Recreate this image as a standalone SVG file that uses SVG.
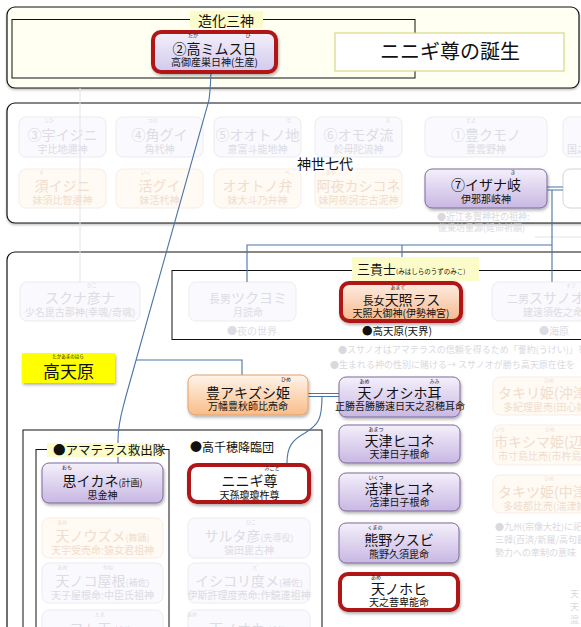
<svg xmlns="http://www.w3.org/2000/svg" width="581" height="627" viewBox="0 0 581 627">
<defs>
<linearGradient id="gLav" x1="0" y1="0" x2="0" y2="1"><stop offset="0" stop-color="#f4f0fb"/><stop offset="1" stop-color="#c8b7e3"/></linearGradient>
<linearGradient id="gLav2" x1="0" y1="0" x2="0" y2="1"><stop offset="0" stop-color="#f3f0fb"/><stop offset="1" stop-color="#d2c8ee"/></linearGradient>
<linearGradient id="gPeach" x1="0" y1="0" x2="0" y2="1"><stop offset="0" stop-color="#feede2"/><stop offset="1" stop-color="#f6b88c"/></linearGradient>
<linearGradient id="gOr" x1="0" y1="0" x2="0" y2="1"><stop offset="0" stop-color="#fff4ea"/><stop offset="1" stop-color="#f8bd88"/></linearGradient>
<filter id="sh" x="-10%" y="-10%" width="125%" height="140%"><feDropShadow dx="1" dy="2" stdDeviation="1.5" flood-color="#000" flood-opacity="0.3"/></filter>
<filter id="psh" x="-5%" y="-5%" width="110%" height="115%"><feDropShadow dx="0" dy="1.5" stdDeviation="1" flood-color="#000" flood-opacity="0.25"/></filter>
</defs>
<style>
text{font-family:"Noto Sans CJK JP","Noto Sans CJK SC",sans-serif;fill:#111}
.m{font-size:14px;text-anchor:middle}
.s{font-size:10px;text-anchor:middle}
.r{font-size:5px;text-anchor:middle;transform:translateY(-1.5px)}
.st{text-anchor:start}
.fl rect{fill:#faf9fd;stroke:#ebebf1}
.fl text{fill:#dcdce4}
.fo rect{fill:#fffaf4;stroke:#f7ede4}
.fo text{fill:#f0ddcc}
.lav{fill:url(#gLav);stroke:#7d6b9b;stroke-width:1}
.red{stroke:#b01419;stroke-width:4}
.cn{fill:none;stroke:#4a74a6;stroke-width:1.1}
.faint{fill:none;stroke:#e4e4e9;stroke-width:1}
.pan{stroke:#111;stroke-width:1.2}
.box{fill:none;stroke:#111;stroke-width:1}
.note{fill:#d9d9de;font-size:9px}
.lbl{fill:#fcfccb}
</style>

<!-- panels -->
<g id="panel-zouka">
<rect x="7" y="7" width="572" height="81" rx="8" fill="#fffff2" class="pan" filter="url(#psh)"/>
<rect x="12" y="19.5" width="403" height="58.5" fill="#fcfccb" class="box"/>
</g>
<g id="panel-kamiyo">
<rect x="7" y="103" width="600" height="120" rx="8" fill="#fff" class="pan" filter="url(#psh)"/>
</g>
<g id="panel-takamagahara">
<rect x="7" y="252" width="600" height="420" rx="8" fill="#fff" class="pan"/>
<rect x="172" y="270.5" width="430" height="69" class="box"/>
<rect x="23" y="430" width="299" height="220" class="box"/>
<rect x="36" y="449.5" width="133" height="200" class="box"/>
</g>

<!-- faded nodes: 神世七代 row 1 -->
<g id="n-uijini" class="fl"><rect x="19" y="117" width="87" height="40" rx="7"/><text class="r" x="48.5" y="123">うひ</text><text class="m" x="62.5" y="140">③宇イジニ</text><text class="s" x="62.5" y="153">宇比地邇神</text></g>
<g id="n-tsunogui" class="fl"><rect x="116" y="117" width="87" height="40" rx="7"/><text class="r" x="152.5" y="123">つの</text><text class="m" x="159.5" y="140">④角グイ</text><text class="s" x="159.5" y="153">角杙神</text></g>
<g id="n-ootonoji" class="fl"><rect x="214" y="117" width="87" height="40" rx="7"/><text class="r" x="289" y="123">ぢ</text><text class="m" x="257.5" y="140">⑤オオトノ地</text><text class="s" x="257.5" y="153">意富斗能地神</text></g>
<g id="n-omodaru" class="fl"><rect x="315" y="117" width="87" height="40" rx="7"/><text class="r" x="388" y="123">る</text><text class="m" x="358.5" y="140">⑥オモダ流</text><text class="s" x="358.5" y="153">於母陀流神</text></g>
<g id="n-toyokumono" class="fl"><rect x="425" y="117" width="122" height="40" rx="7"/><text class="r" x="471" y="123">とよ</text><text class="m" x="486" y="140">①豊クモノ</text><text class="s" x="486" y="153">豊雲野神</text></g>
<g id="n-kuninotokotachi" class="fl"><rect x="563" y="117" width="60" height="40" rx="7"/><text class="s st" x="567" y="153">国之常立神</text></g>
<!-- row 2 -->
<g id="n-suhijini" class="fo"><rect x="19" y="169" width="87" height="39" rx="7"/><text class="r" x="41.5" y="175">す</text><text class="m" x="62.5" y="191">須イジニ</text><text class="s" x="62.5" y="204">妹須比智邇神</text></g>
<g id="n-ikugui" class="fo"><rect x="116" y="169" width="87" height="39" rx="7"/><text class="r" x="146" y="175">いく</text><text class="m" x="159.5" y="191">活グイ</text><text class="s" x="159.5" y="204">妹活杙神</text></g>
<g id="n-ootonobe" class="fo"><rect x="214" y="169" width="87" height="39" rx="7"/><text class="r" x="287" y="175">べ</text><text class="m" x="257.5" y="191">オオトノ弁</text><text class="s" x="257.5" y="204">妹大斗乃弁神</text></g>
<g id="n-ayakashikone" class="fo"><rect x="315" y="169" width="87" height="39" rx="7"/><text class="r" x="331" y="175">あや</text><text class="m" x="358.5" y="191">阿夜カシコネ</text><text class="s" x="358.5" y="204">妹阿夜訶志古泥神</text></g>
<g id="n-izanami"><rect x="563" y="169" width="60" height="39" rx="7" fill="#fff" stroke="#d4d4d8"/></g>
<text class="note" x="437" y="220" font-size="10">●近江多賀神社の祖神:</text>
<text class="note" x="438" y="231" font-size="10">俊乗坊重源(延命祈願)</text>

<!-- faded nodes: 高天原 -->
<g id="n-sukunabikona" class="fl"><rect x="20" y="282" width="120" height="39" rx="7"/><text class="r" x="92" y="288">ひこ</text><text class="m" x="80" y="303">スクナ彦ナ</text><text class="s" x="80" y="316">少名毘古那神(幸魂/奇魂)</text></g>
<g id="n-tsukuyomi" class="fl"><rect x="189" y="282" width="107" height="39" rx="7"/><text class="m" x="248" y="303"><tspan font-size="11">長男</tspan>ツクヨミ</text><text class="s" x="248" y="316">月読命</text><text class="s" x="252" y="335" font-size="10.5">●夜の世界</text></g>
<g id="n-susanoo" class="fl"><rect x="492" y="282" width="120" height="39" rx="7"/><text class="r" x="571" y="288">すさ</text><text class="m st" x="507" y="303"><tspan font-size="11">二男</tspan>スサノオ</text><text class="s st" x="523" y="316">建速須佐之命</text><text class="s st" x="539" y="335" font-size="10.5">●海原</text></g>
<text class="note" x="338" y="353">●スサノオはアマテラスの信頼を得るため「誓約(うけい)」を</text>
<text class="note" x="330" y="368">●生まれる神の性別に賭ける→ スサノオが勝ち高天原在住を</text>

<g id="n-takiri" class="fo"><rect x="493" y="377" width="120" height="38" rx="7"/><text class="r st" x="544" y="383">ひめ</text><text class="m st" x="498" y="398">タキリ姫(沖津宮)</text><text class="s st" x="503" y="411">多紀理毘売(田心姫)</text></g>
<g id="n-ichikishima" class="fo"><rect x="493" y="425" width="120" height="40" rx="7"/><text class="r st" x="495" y="432">いち</text><text class="r st" x="545" y="432">ひめ</text><text class="m st" x="494" y="447">市キシマ姫(辺津宮)</text><text class="s st" x="498" y="460">市寸島比売(市杵島姫)</text></g>
<g id="n-takitsu" class="fo"><rect x="493" y="475" width="120" height="38" rx="7"/><text class="r st" x="544" y="481">ひめ</text><text class="m st" x="498" y="497">タキツ姫(中津宮)</text><text class="s st" x="503" y="510">多岐都比売(湍津姫)</text></g>
<text class="note" x="495" y="530">●九州(宗像大社)に祀</text>
<text class="note" x="495" y="543">三韓(百済/新羅/高句麗)</text>
<text class="note" x="495" y="556">勢力への牽制の意味</text>
<text class="note" x="570" y="597" font-size="10">天</text>
<text class="note" x="570" y="610" font-size="10">天</text>
<text class="note" x="570" y="623" font-size="10">混</text>

<g id="n-amenouzume" class="fo"><rect x="42" y="518" width="121" height="40" rx="7"/><text class="r" x="62.5" y="525">あめ</text><text class="m" x="102.5" y="541">天ノウズメ<tspan font-size="9">(舞踊)</tspan></text><text class="s" x="102.5" y="554">天宇受売命:猿女君祖神</text></g>
<g id="n-sarutahiko" class="fl"><rect x="188" y="518" width="122" height="40" rx="7"/><text class="r" x="251" y="525">ひこ</text><text class="m" x="249" y="541">サルタ彦<tspan font-size="9">(先導役)</tspan></text><text class="s" x="249" y="554">猿田毘古神</text></g>
<g id="n-amenokoyane" class="fl"><rect x="42" y="563" width="121" height="40" rx="7"/><text class="r" x="62.5" y="570">あめ</text><text class="r" x="108" y="570">やね</text><text class="m" x="102.5" y="586">天ノコ屋根<tspan font-size="9">(補佐)</tspan></text><text class="s" x="102.5" y="599">天子屋根命:中臣氏祖神</text></g>
<g id="n-ishikoridome" class="fl"><rect x="188" y="563" width="122" height="40" rx="7"/><text class="r" x="255" y="570">ど</text><text class="m" x="249" y="586">イシコリ度メ<tspan font-size="9">(補佐)</tspan></text><text class="s" x="249" y="599">伊斯許理度売命:作鏡連祖神</text></g>
<g id="n-futotama" class="fl"><rect x="42" y="610" width="121" height="40" rx="7"/><text class="r" x="100" y="617">たま</text><text class="m" x="102.5" y="634">フト玉<tspan font-size="9">(補佐)</tspan></text></g>
<g id="n-amenotajikara" class="fl"><rect x="188" y="610" width="122" height="40" rx="7"/><text class="r" x="192" y="617">あめ</text><text class="m" x="249" y="634">天ノオカ<tspan font-size="9">(補佐)</tspan></text></g>

<!-- connectors -->
<g id="connectors">
<path class="faint" d="M80,88 V282"/>
<path class="faint" d="M535,237 H581"/>
<path class="cn" d="M211,65 C211,80 210,92 209,100 L126,396 C122,412 118,422 118,440 L118,463"/>
<path class="cn" d="M136,360 H242 V375"/>
<path class="cn" d="M547,187 H563 M547,190 H563"/>
<path class="cn" d="M552,190 V282"/>
<path class="cn" d="M247,282 V245 H552"/>
<path class="cn" d="M402,245 V281"/>
<path class="cn" d="M308,393.5 H339 M308,396.5 H339"/>
<path class="cn" d="M322,396.5 C322,420 318,425 305,433 C292,440 287,447 287,463"/>
</g>

<!-- panel labels -->
<g id="label-zouka"><rect x="190" y="11" width="73" height="17" class="lbl"/><text x="226" y="26" font-size="14" text-anchor="middle">造化三神</text></g>
<g id="label-kamiyo"><text x="297" y="169" font-size="14">神世七代</text></g>
<g id="label-sankishi"><rect x="352" y="257" width="127" height="24" class="lbl"/><text x="357" y="274" font-size="13">三貴士<tspan font-size="6.5">(みはしらのうずのみこ)</tspan></text></g>
<g id="label-takamagahara"><rect x="22" y="353" width="93" height="30" fill="#ffff00" filter="url(#sh)"/><text x="68" y="358" font-size="4.5" text-anchor="middle">たかあまのはら</text><text x="68.5" y="378" font-size="17" text-anchor="middle">高天原</text></g>
<g id="label-kyushutsu"><rect x="47" y="443" width="116" height="14" class="lbl"/><text x="53" y="455" font-size="12.5">●アマテラス救出隊</text></g>
<g id="label-takachiho"><text x="190" y="452" font-size="12">●高千穂降臨団</text></g>
<g id="title"><rect x="335" y="33" width="229" height="38" fill="#fff" stroke="#cfcf70" stroke-width="1"/><text x="450" y="59" font-size="20" text-anchor="middle">ニニギ尊の誕生</text></g>

<!-- main nodes -->
<g id="n-takamimusubi"><rect x="153" y="32" width="123" height="40" rx="8" fill="url(#gLav2)" class="red" filter="url(#sh)"/><text class="r" x="193" y="38">たか</text><text class="r" x="248" y="38">ひ</text><text class="m" x="214.5" y="54">②高ミムス日</text><text class="s" x="214.5" y="66">高御産巣日神(生産)</text></g>
<g id="n-izanagi"><rect x="425" y="169" width="122" height="39" rx="7" class="lav" filter="url(#sh)"/><text class="r" x="513" y="175">き</text><text class="m" x="486" y="190">⑦イザナ岐</text><text class="s" x="486" y="203">伊邪那岐神</text></g>
<g id="n-amaterasu"><rect x="341" y="283" width="120" height="38" rx="8" fill="url(#gPeach)" class="red" filter="url(#sh)"/><text class="r" x="398" y="290">あまて</text><text class="m" x="401.5" y="305"><tspan font-size="11">長女</tspan>天照ラス</text><text class="s" x="401" y="317">天照大御神(伊勢神宮)</text></g>
<text x="397" y="335" font-size="10.5" text-anchor="middle">●高天原(天界)</text>
<g id="n-toyoakitsushi"><rect x="188" y="375" width="120" height="40" rx="7" fill="url(#gOr)" stroke="#e3a06a" filter="url(#sh)"/><text class="r" x="286" y="382">ひめ</text><text class="m" x="248" y="398">豊アキズシ姫</text><text class="s" x="248" y="410">万幡豊秋師比売命</text></g>
<g id="n-oshihomimi"><rect x="339" y="377" width="121" height="40" rx="7" class="lav" filter="url(#sh)"/><text class="r" x="364.5" y="384">あめ</text><text class="r" x="434.5" y="384">みみ</text><text class="m" x="399.5" y="398">天ノオシホ耳</text><text class="s" x="400" y="410">正勝吾勝勝速日天之忍穂耳命</text></g>
<g id="n-amatsuhikone"><rect x="339" y="425" width="121" height="38" rx="7" class="lav" filter="url(#sh)"/><text class="r" x="376" y="432">あまつ</text><text class="m" x="399.5" y="446">天津ヒコネ</text><text class="s" x="399.5" y="458">天津日子根命</text></g>
<g id="n-ikutsuhikone"><rect x="339" y="473" width="121" height="38" rx="7" class="lav" filter="url(#sh)"/><text class="r" x="376" y="480">いくつ</text><text class="m" x="399.5" y="494">活津ヒコネ</text><text class="s" x="399.5" y="506">活津日子根命</text></g>
<g id="n-kumanokusubi"><rect x="339" y="523" width="120" height="40" rx="7" class="lav" filter="url(#sh)"/><text class="r" x="375" y="530">くまの</text><text class="m" x="399" y="545">熊野クスビ</text><text class="s" x="399" y="558">熊野久須毘命</text></g>
<g id="n-amenohohi"><rect x="340" y="574" width="118" height="36" rx="8" fill="#fff" class="red" filter="url(#sh)"/><text class="r" x="376" y="580">あめ</text><text class="m" x="399" y="594">天ノホヒ</text><text class="s" x="399" y="606">天之菩卑能命</text></g>
<g id="n-omoikane"><rect x="42" y="463" width="121" height="40" rx="7" class="lav" filter="url(#sh)"/><text class="r" x="67" y="470">おも</text><text class="m" x="102.5" y="486">思イカネ<tspan font-size="9">(計画)</tspan></text><text class="s" x="102.5" y="499">思金神</text></g>
<g id="n-ninigi"><rect x="189" y="465" width="120" height="37" rx="8" fill="#fff" class="red" filter="url(#sh)"/><text class="r" x="272" y="471">みこと</text><text class="m" x="249.5" y="486">ニニギ尊</text><text class="s" x="249.5" y="499">天孫瓊瓊杵尊</text></g>
</svg>
